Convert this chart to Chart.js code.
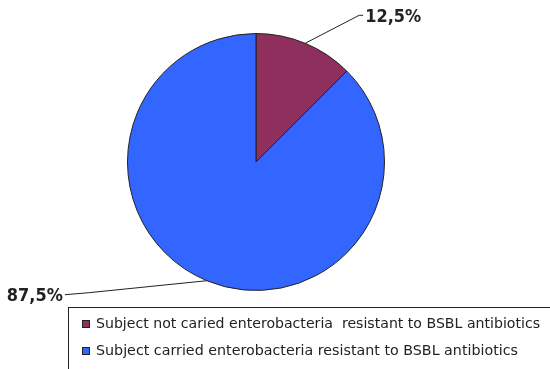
<!DOCTYPE html>
<html>
<head>
<meta charset="utf-8">
<script src="https://cdn.jsdelivr.net/npm/chart.js@4/dist/chart.umd.min.js"></script>
<style>
html,body{margin:0;padding:0;background:#fff;overflow:hidden;}
#wrap{width:550px;height:369px;position:relative;}
</style>
</head>
<body>
<div id="wrap"><canvas id="c" width="550" height="369"></canvas></div>
<script>
const categories = [
  "Subject not caried enterobacteria  resistant to BSBL antibiotics",
  "Subject carried enterobacteria resistant to BSBL antibiotics"
];
const values = [12.5, 87.5];
const valueLabels = ["12,5%", "87,5%"];
const colors = ["#8E2F5D", "#3366FF"];

function fitText(ctx, text, x, y, targetW, align) {
  const w = ctx.measureText(text).width;
  const s = targetW / w;
  ctx.save();
  ctx.translate(x, y);
  ctx.scale(s, 1);
  ctx.textAlign = 'left';
  ctx.fillText(text, align === 'right' ? -w : 0, 0);
  ctx.restore();
}

const leaderPlugin = {
  id: 'leaders',
  afterDatasetsDraw(chart) {
    const ctx = chart.ctx;
    const meta = chart.getDatasetMeta(0);
    const geo = [
      {bend: [54, -28], end: [58, -28], align: 'left'},
      {bend: [-118, 12], end: [-142, 14], align: 'right'}
    ];
    ctx.save();
    meta.data.forEach((arc, i) => {
      const p = arc.getProps(['x','y','startAngle','endAngle','outerRadius'], true);
      const mid = (p.startAngle + p.endAngle) / 2;
      const ex = p.x + Math.cos(mid) * p.outerRadius;
      const ey = p.y + Math.sin(mid) * p.outerRadius;
      const g = geo[i];
      ctx.strokeStyle = '#222';
      ctx.lineWidth = 1;
      ctx.beginPath();
      ctx.moveTo(ex, ey);
      ctx.lineTo(ex + g.bend[0], ey + g.bend[1]);
      ctx.lineTo(ex + g.end[0], ey + g.end[1]);
      ctx.stroke();
      ctx.fillStyle = '#222';
      ctx.font = 'bold 18px "DejaVu Sans"';
      ctx.textBaseline = 'middle';
      const tx = ex + g.end[0] + (g.align === 'left' ? 2 : -2);
      fitText(ctx, valueLabels[i], tx, ey + g.end[1] + 2, 56, g.align);
    });
    ctx.restore();
  }
};

const boxLegendPlugin = {
  id: 'boxLegend',
  afterDraw(chart) {
    const ctx = chart.ctx;
    ctx.save();
    ctx.strokeStyle = '#222';
    ctx.lineWidth = 1;
    ctx.strokeRect(68.5, 307.5, 500, 80);
    ctx.font = '14px "DejaVu Sans"';
    ctx.textBaseline = 'middle';
    const rows = [324, 351];
    const targetW = [444, 422];
    categories.forEach((label, i) => {
      const y = rows[i];
      ctx.fillStyle = colors[i];
      ctx.fillRect(82, y - 4, 8, 8);
      ctx.strokeStyle = '#222';
      ctx.strokeRect(82.5, y - 3.5, 7, 7);
      ctx.fillStyle = '#222';
      fitText(ctx, label, 96, y, targetW[i], 'left');
    });
    ctx.restore();
  }
};

new Chart(document.getElementById('c'), {
  type: 'pie',
  data: {
    labels: categories,
    datasets: [{
      data: values,
      backgroundColor: colors,
      borderColor: '#222',
      borderWidth: 1
    }]
  },
  options: {
    responsive: false,
    animation: false,
    layout: { padding: { top: 33, bottom: 78, left: 127, right: 165 } },
    plugins: {
      legend: { display: false },
      tooltip: { enabled: false }
    }
  },
  plugins: [leaderPlugin, boxLegendPlugin]
});
</script>
</body>
</html>
